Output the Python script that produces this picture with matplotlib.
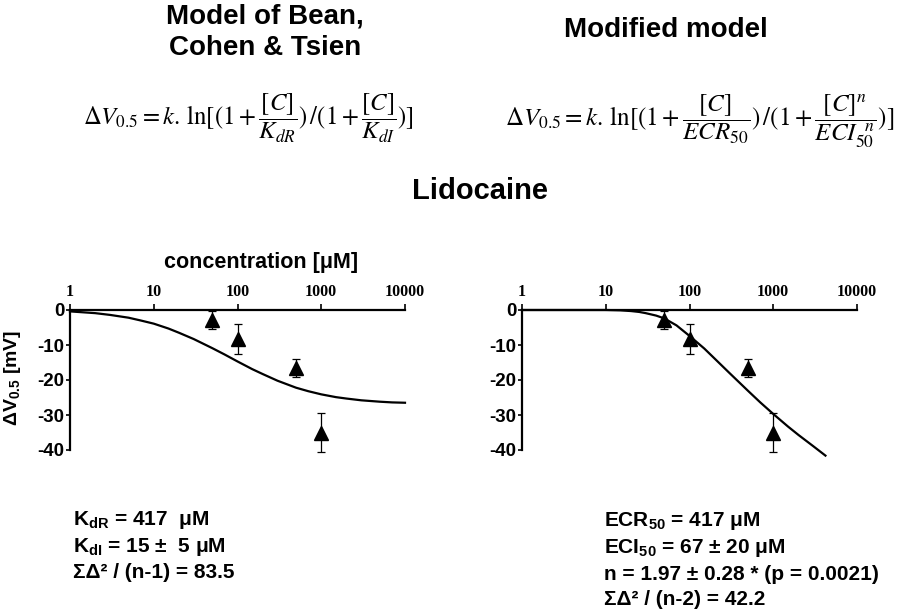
import matplotlib
matplotlib.use("Agg")
import matplotlib.pyplot as plt

plt.rcParams['mathtext.fontset'] = 'custom'
plt.rcParams['mathtext.rm'] = 'Liberation Sans:bold'
plt.rcParams['mathtext.it'] = 'Liberation Sans:bold'
plt.rcParams['mathtext.bf'] = 'Liberation Sans:bold'

# ---- data ----
conc_pts = [50, 100, 500, 1000]
dv_mean = [-2.9, -8.3, -16.6, -35.0]
dv_err = [2.5, 4.4, 2.6, 5.5]

conc_fit_left = [1, 2, 3, 5, 7, 10, 15, 20, 30, 50, 70, 100, 150, 200, 300,
                 500, 700, 1000, 1500, 2000, 3000, 5000, 7000, 10000]
dv_fit_left = [-0.4, -0.9, -1.4, -2.2, -3.0, -3.9, -5.3, -6.5, -8.3, -10.9,
               -12.7, -14.7, -16.9, -18.3, -20.2, -22.2, -23.2, -24.1, -24.9,
               -25.3, -25.8, -26.2, -26.4, -26.5]

conc_fit_right = [1, 2, 5, 10, 15, 20, 25, 30, 40, 50, 70, 100, 150, 200, 300,
                  500, 700, 1000, 1500, 2000, 3000, 4200]
dv_fit_right = [0.0, 0.0, 0.0, 0.0, -0.1, -0.3, -0.55, -0.9, -1.6, -2.4, -4.4,
                -7.4, -11.0, -13.9, -18.0, -23.1, -26.4, -29.7, -33.3, -35.7,
                -38.9, -41.6]

x_ticks = [1, 10, 100, 1000, 10000]
x_tick_labels = ['1', '10', '100', '1000', '10000']
y_ticks = [0, -10, -20, -30, -40]
y_tick_labels = ['0', '-10', '-20', '-30', '-40']

W, H = 900, 610
fig = plt.figure(figsize=(9, 6.1), dpi=100)

def px(x0, y0, x1, y1):
    return [x0 / W, 1 - y1 / H, (x1 - x0) / W, (y1 - y0) / H]

SANS = 'Liberation Sans'

def setup(ax):
    ax.set_xscale('log')
    ax.set_xlim(1, 10000)
    ax.set_ylim(-42, 0)
    for s in ['right', 'bottom']:
        ax.spines[s].set_visible(False)
    ax.spines['top'].set_linewidth(1.6)
    ax.spines['left'].set_linewidth(1.6)
    ax.spines['left'].set_bounds(-40, 0)
    ax.xaxis.set_ticks_position('top')
    ax.xaxis.set_label_position('top')
    ax.set_xticks(x_ticks)
    ax.set_xticklabels(x_tick_labels, fontfamily='Liberation Serif',
                       fontweight='bold', fontsize=11.5)
    ax.xaxis.set_minor_locator(matplotlib.ticker.NullLocator())
    ax.tick_params(axis='x', direction='out', length=4, width=1.2, pad=3)
    ax.set_yticks(y_ticks)
    ax.set_yticklabels(y_tick_labels, fontfamily=SANS, fontweight='bold',
                       fontsize=13.5)
    ax.tick_params(axis='y', direction='out', length=3, width=1.2, pad=1)
    ax.errorbar(conc_pts, dv_mean, yerr=dv_err, fmt='^', color='black',
                ms=9.5, capsize=3, elinewidth=0.9, capthick=0.9, clip_on=False,
                zorder=3)

axL = fig.add_axes(px(70, 310, 405, 457))
setup(axL)
axL.plot(conc_fit_left, dv_fit_left, color='black', lw=1.6, clip_on=False)

axR = fig.add_axes(px(522, 310, 857, 457))
setup(axR)
axR.plot(conc_fit_right, dv_fit_right, color='black', lw=1.6, clip_on=False)

# titles
fig.text(265 / W, 1 - 24 / H, 'Model of Bean,', ha='center', va='baseline',
         fontfamily=SANS, fontweight='bold', fontsize=20)
fig.text(265 / W, 1 - 55 / H, 'Cohen & Tsien', ha='center', va='baseline',
         fontfamily=SANS, fontweight='bold', fontsize=20)
fig.text(666 / W, 1 - 37 / H, 'Modified model', ha='center', va='baseline',
         fontfamily=SANS, fontweight='bold', fontsize=20)
fig.text(480 / W, 1 - 191 / H, 'Lidocaine', ha='center', va='center',
         fontfamily=SANS, fontweight='bold', fontsize=21)
fig.text(261 / W, 1 - 268 / H, 'concentration [μM]', ha='center',
         va='baseline', fontfamily=SANS, fontweight='bold', fontsize=15.5)
fig.text(13 / W, 1 - 378 / H, r'ΔV$_{0.5}$ [mV]', ha='center', va='center',
         rotation=90, fontfamily=SANS, fontweight='bold', fontsize=14)

# formulas
fL = (r'$\Delta V_{0.5} = k.\,\ln[(1+\dfrac{[C]}{K_{dR}})\,/(1+'
      r'\dfrac{[C]}{K_{dI}})]$')
fR = (r'$\Delta V_{0.5} = k.\,\ln[(1+\dfrac{[C]}{ECR_{50}})\,/(1+'
      r'\dfrac{[C]^{n}}{ECI_{50}^{\;\;n}})]$')
fig.text(248 / W, 1 - 118 / H, fL, ha='center', va='center', fontsize=17.8,
         math_fontfamily='stix')
fig.text(700 / W, 1 - 121 / H, fR, ha='center', va='center', fontsize=18,
         math_fontfamily='stix')

# parameter texts
left_lines = [r'K$_{\mathrm{dR}}$ = 417  μM', r'K$_{\mathrm{dI}}$ = 15 ±  5 μM',
              'ΣΔ² / (n-1) = 83.5']
right_lines = [r'ECR$_{\mathrm{50}}$ = 417 μM', r'ECI$_{\mathrm{50}}$ = 67 ± 20 μM',
               'n = 1.97 ± 0.28 * (p = 0.0021)', 'ΣΔ² / (n-2) = 42.2']
left_base = [525, 552, 578]
right_base = [526, 553, 580, 605]
for t, b in zip(left_lines, left_base):
    fig.text(73 / W, 1 - b / H, t, ha='left', va='baseline', fontfamily=SANS,
             fontweight='bold', fontsize=15)
for t, b in zip(right_lines, right_base):
    fig.text(604 / W, 1 - b / H, t, ha='left', va='baseline', fontfamily=SANS,
             fontweight='bold', fontsize=15)

fig.savefig('out.png', dpi=100)
